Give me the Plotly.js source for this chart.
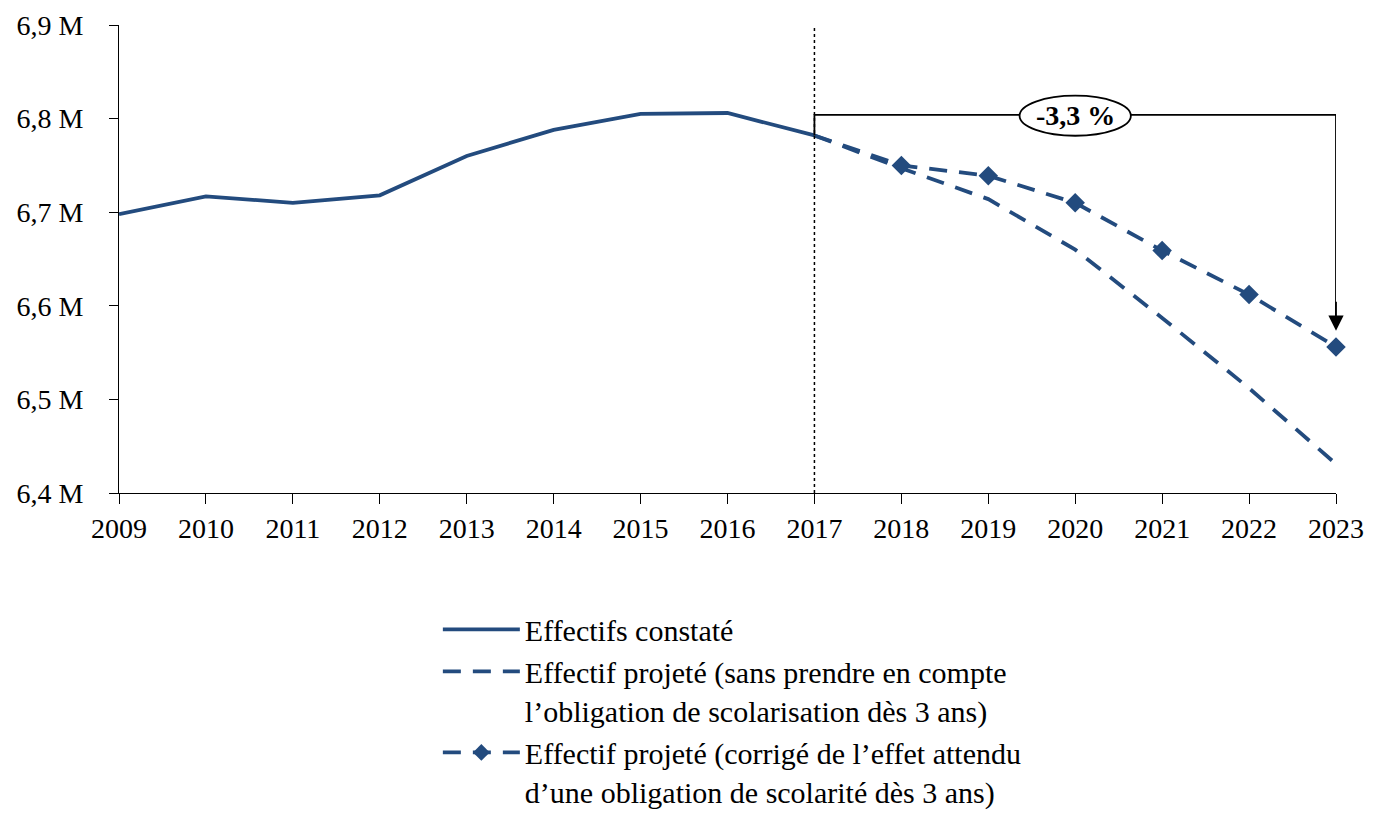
<!DOCTYPE html>
<html>
<head>
<meta charset="utf-8">
<script src="https://cdn.plot.ly/plotly-3.0.1.min.js"></script>
<style>html,body{margin:0;padding:0;background:#fff;}#chart{width:1392px;height:822px;}</style>
</head>
<body>
<div id="chart"></div>
<script>
// Data
var yearsObserved = [2009, 2010, 2011, 2012, 2013, 2014, 2015, 2016, 2017];
var effectifsConstates = [6.698, 6.717, 6.710, 6.718, 6.760, 6.788, 6.805, 6.806, 6.782];
var yearsProjected = [2017, 2018, 2019, 2020, 2021, 2022, 2023];
var projeteSansObligation = [6.782, 6.747, 6.714, 6.660, 6.587, 6.512, 6.431];
var projeteCorrige = [6.782, 6.750, 6.739, 6.710, 6.659, 6.612, 6.556];
var yTickVals = [6.4, 6.5, 6.6, 6.7, 6.8, 6.9];
var yTickText = ['6,4 M', '6,5 M', '6,6 M', '6,7 M', '6,8 M', '6,9 M'];
var xTickVals = [2009, 2010, 2011, 2012, 2013, 2014, 2015, 2016, 2017, 2018, 2019, 2020, 2021, 2022, 2023];
var seriesNames = [
  'Effectifs constaté',
  'Effectif projeté (sans prendre en compte<br>l’obligation de scolarisation dès 3 ans)',
  'Effectif projeté (corrigé de l’effet attendu<br>d’une obligation de scolarité dès 3 ans)'
];
var variationLabel = '-3,3 %';

var blue = '#234b7e';
var font = 'Liberation Serif, Times New Roman, serif';

var traces = [
  {x: yearsObserved, y: effectifsConstates, name: seriesNames[0], type: 'scatter', mode: 'lines',
   line: {color: blue, width: 3.8}},
  {x: yearsProjected, y: projeteSansObligation, name: seriesNames[1], type: 'scatter', mode: 'lines',
   line: {color: blue, width: 3.8, dash: '18px,12px'}},
  {x: yearsProjected, y: projeteCorrige, name: seriesNames[2], type: 'scatter', mode: 'lines+markers',
   line: {color: blue, width: 3.8, dash: '18px,12px'},
   marker: {symbol: 'diamond', color: blue, opacity: 1, line: {width: 0},
            size: yearsProjected.map(function(y){return y === yearsProjected[0] ? 0 : 15;})},
   cliponaxis: false}
];

var startY = effectifsConstates[effectifsConstates.length - 1];
var bracketY = 6.804;
var endY = projeteCorrige[projeteCorrige.length - 1];
var x0 = yearsProjected[0], x1 = yearsProjected[yearsProjected.length - 1];

var layout = {
  width: 1392, height: 822,
  margin: {l: 119, r: 56, t: 25, b: 329, autoexpand: false},
  paper_bgcolor: '#fff', plot_bgcolor: '#fff',
  font: {family: font, color: '#000', size: 28},
  showlegend: true,
  legend: {x: 0.262, y: -0.236, xanchor: 'left', yanchor: 'top', valign: 'top',
           font: {family: font, size: 30, color: '#000'}, itemwidth: 77, tracegroupgap: 0},
  xaxis: {range: [2009, 2023], tickvals: xTickVals, ticks: 'outside', ticklen: 10, tickcolor: '#000',
          showline: true, linecolor: '#000', linewidth: 1, showgrid: false, zeroline: false,
          tickfont: {family: font, size: 28}, ticklabelstandoff: 0},
  yaxis: {range: [6.4, 6.9], tickvals: yTickVals, ticktext: yTickText, ticks: 'outside', ticklen: 9,
          tickcolor: '#000', showline: true, linecolor: '#000', linewidth: 1, showgrid: false, zeroline: false,
          tickfont: {family: font, size: 28}, ticklabelstandoff: 20},
  shapes: [
    {type: 'line', xref: 'x', yref: 'paper', x0: x0, x1: x0, y0: 0, y1: 1,
     line: {color: '#000', width: 1.5, dash: 'dot'}},
    {type: 'path', xref: 'x', yref: 'y',
     path: 'M' + x0 + ',' + startY + ' L' + x0 + ',' + bracketY + ' L' + x1 + ',' + bracketY + ' L' + x1 + ',' + (endY + 0.03),
     line: {color: '#000', width: 1.8}},
    {type: 'circle', xref: 'x', yref: 'y', x0: 2019.36, x1: 2020.64, y0: 6.7817, y1: 6.8245,
     fillcolor: '#fff', line: {color: '#000', width: 1.8}}
  ],
  annotations: [
    {xref: 'x', yref: 'y', x: x1, y: endY + 0.0174, axref: 'x', ayref: 'y', ax: x1, ay: endY + 0.05,
     showarrow: true, arrowhead: 2, arrowsize: 1.7, arrowwidth: 1.8, arrowcolor: '#000', text: ''},
    {xref: 'x', yref: 'y', x: 2020, y: 6.8031, text: '<b>' + variationLabel + '</b>', showarrow: false,
     font: {family: font, size: 28, color: '#000'}}
  ]
};

Plotly.newPlot('chart', traces, layout, {displayModeBar: false, staticPlot: true});
</script>
</body>
</html>
